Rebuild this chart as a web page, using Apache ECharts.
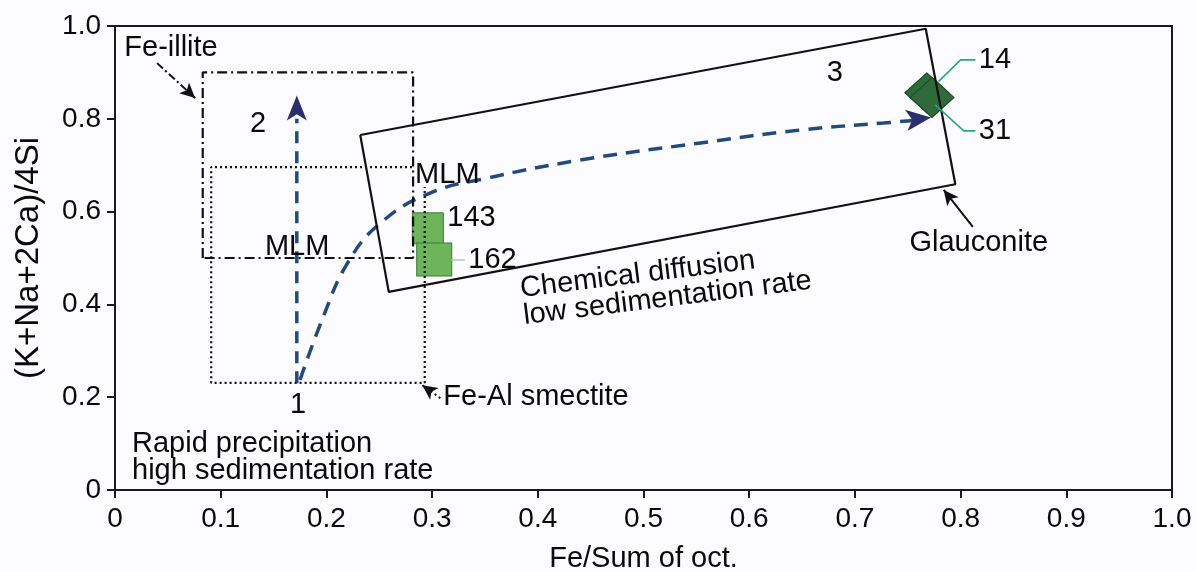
<!DOCTYPE html>
<html>
<head>
<meta charset="utf-8">
<script src="https://cdn.jsdelivr.net/npm/echarts@6/dist/echarts.min.js"></script>
<style>
html,body{margin:0;padding:0;background:#fcfcfe;}
#chart{width:1197px;height:572px;}
</style>
</head>
<body>
<div id="chart"></div>
<script>
// ---------- data ----------
const xAxisTitle = 'Fe/Sum of oct.';
const yAxisTitle = '(K+Na+2Ca)/4Si';

// mineral fields (Fe/Sum of oct., (K+Na+2Ca)/4Si)
const feIlliteField = [[0.083,0.5],[0.083,0.9],[0.282,0.9],[0.282,0.5],[0.083,0.5]];
const feAlSmectiteField = [[0.281,0.696],[0.091,0.696],[0.091,0.231],[0.293,0.231],[0.293,0.653]];
const glauconiteField = [[0.232,0.765],[0.767,0.994],[0.795,0.659],[0.259,0.427],[0.232,0.765]];

// evolution paths
const diffusionPath = [[0.175,0.237],[0.197,0.373],[0.220,0.489],[0.251,0.575],[0.298,0.640],
  [0.352,0.672],[0.440,0.711],[0.554,0.748],[0.649,0.776],[0.727,0.791],[0.758,0.797]];
const diffusionHead = [[0.772,0.803]];
const precipitationPath = [[0.172,0.23],[0.172,0.80]];
const precipitationHead = [[0.172,0.850]];

// samples
const mlmSampleNames = ['143','162'];
const mlmSampleValues = [[0.296,0.564],[0.302,0.497]];
const glauconiteSampleNames = ['14','31'];
const glauconiteSampleValues = [[0.768,0.856],[0.773,0.846]];

// ---------- layout / annotations ----------
const TXT = '#0a0a0a';
const FONT = 'Liberation Sans, Arial, sans-serif';
const FS = 29;

function lbl(x, y, text, opts) {
  opts = opts || {};
  return {
    value: [x, y],
    label: Object.assign({
      show: true, formatter: text, position: opts.left ? 'right' : 'inside',
      distance: 0, color: TXT, opacity: 1, fontSize: FS, fontFamily: FONT, lineHeight: 27
    }, opts.extra || {})
  };
}

const annotations = [
  lbl(0.053, 0.9526, 'Fe-illite'),
  lbl(0.1354, 0.789, '2'),
  lbl(0.1723, 0.5237, 'MLM'),
  lbl(0.3144, 0.679, 'MLM'),
  lbl(0.3144, 0.586, mlmSampleNames[0], {left: true}),
  lbl(0.3343, 0.4957, mlmSampleNames[1], {left: true}),
  lbl(0.681, 0.899, '3'),
  lbl(0.8172, 0.9267, glauconiteSampleNames[0], {left: true}),
  lbl(0.8172, 0.7737, glauconiteSampleNames[1], {left: true}),
  lbl(0.8172, 0.5330, 'Glauconite'),
  lbl(0.1733, 0.1832, '1'),
  lbl(0.3106, 0.2004, 'Fe-Al smectite', {left: true}),
  lbl(0.0161, 0.0700, 'Rapid precipitation\nhigh sedimentation rate', {left: true}),
  lbl(0.3835, 0.4330, 'Chemical diffusion', {left: true, extra: {rotate: 7}}),
  lbl(0.3864, 0.3750, 'low sedimentation rate', {left: true, extra: {rotate: 7}})
];

const leaderColor = '#2aa584';

const chart = echarts.init(document.getElementById('chart'), null, {renderer: 'canvas'});
chart.setOption({
  animation: false,
  backgroundColor: '#fcfcfe',
  textStyle: {fontFamily: FONT},
  grid: {left: 115, right: 25, top: 26, bottom: 82, outerBoundsMode: 'none', containLabel: false,
    show: true, borderColor: '#1a1a1a', borderWidth: 2, backgroundColor: 'transparent'},
  xAxis: {
    type: 'value', min: 0, max: 1, interval: 0.1,
    name: xAxisTitle, nameLocation: 'middle', nameGap: 54,
    nameTextStyle: {fontSize: 29, color: TXT, fontFamily: FONT},
    axisLine: {show: true, onZero: false, lineStyle: {color: '#1a1a1a', width: 2}},
    axisTick: {show: true, inside: false, length: 8, lineStyle: {color: '#1a1a1a', width: 2}},
    axisLabel: {fontSize: 28, color: TXT, margin: 15, fontFamily: FONT,
      formatter: v => v === 0 ? '0' : v.toFixed(1)},
    splitLine: {show: false}
  },
  yAxis: {
    type: 'value', min: 0, max: 1, interval: 0.2,
    name: yAxisTitle, nameLocation: 'middle', nameGap: 70,
    nameTextStyle: {fontSize: 33, color: TXT, fontFamily: FONT},
    axisLine: {show: true, onZero: false, lineStyle: {color: '#1a1a1a', width: 2}},
    axisTick: {show: true, inside: false, length: 8, lineStyle: {color: '#1a1a1a', width: 2}},
    axisLabel: {fontSize: 28, color: TXT, margin: 14, fontFamily: FONT,
      formatter: v => v === 0 ? '0' : v.toFixed(1)},
    splitLine: {show: false}
  },
  series: [
    {
      type: 'scatter', z: 2, symbol: 'rect',
      data: mlmSampleValues.map((v, i) => ({name: mlmSampleNames[i], value: v, symbolSize: i === 0 ? [31, 31] : [35, 33]})),
      itemStyle: {color: '#6db45b', borderColor: '#3d7b37', borderWidth: 1, opacity: 1}
    },
    {
      type: 'scatter', z: 2, symbol: 'diamond', symbolSize: [44, 40],
      data: glauconiteSampleValues.map((v, i) => ({name: glauconiteSampleNames[i], value: v})),
      itemStyle: {color: '#2e6a3a', borderColor: '#1d4726', borderWidth: 1, opacity: 1}
    },
    {
      type: 'line', z: 4, symbol: 'none', data: feIlliteField,
      lineStyle: {color: '#111', width: 2.2, type: [10, 4, 2, 4]}
    },
    {
      type: 'line', z: 4, symbol: 'none', data: feAlSmectiteField,
      lineStyle: {color: '#111', width: 2.2, type: [2, 3]}
    },
    {
      type: 'line', z: 4, symbol: 'none', data: glauconiteField,
      lineStyle: {color: '#111', width: 2.2, type: 'solid'}
    },
    {
      type: 'line', z: 3, symbol: 'none', smooth: 0.45, data: diffusionPath,
      lineStyle: {color: '#234a7d', width: 3.5, type: [14, 9]}
    },
    {
      type: 'line', z: 3, symbol: 'none', data: precipitationPath,
      lineStyle: {color: '#234a7d', width: 3.5, type: [12, 8]}
    },
    {
      type: 'scatter', z: 3, symbol: 'arrow', symbolSize: [16, 25], symbolRotate: -83,
      data: diffusionHead, itemStyle: {color: '#2a2e6c', opacity: 1}
    },
    {
      type: 'scatter', z: 3, symbol: 'arrow', symbolSize: [15, 25], symbolRotate: 0,
      data: precipitationHead, itemStyle: {color: '#2a2e6c', opacity: 1}
    },
    {
      type: 'line', z: 4, data: [],
      markLine: {
        silent: true, animation: false, symbol: ['none', 'arrow'], symbolSize: [11, 15],
        label: {show: false},
        data: [
          [{coord: [0.0398, 0.920], lineStyle: {color: '#111', width: 2, type: [8, 3, 2, 3]}}, {coord: [0.0758, 0.845]}],
          [{coord: [0.3078, 0.198], lineStyle: {color: '#111', width: 2, type: [2, 3]}}, {coord: [0.2907, 0.226]}],
          [{coord: [0.8116, 0.567], lineStyle: {color: '#111', width: 2, type: 'solid'}}, {coord: [0.784, 0.6466]}]
        ]
      }
    },
    {
      type: 'line', z: 5, symbol: 'none', data: [[0.779, 0.880], [0.800, 0.927], [0.814, 0.927]],
      lineStyle: {color: leaderColor, width: 1.6}
    },
    {
      type: 'line', z: 5, symbol: 'none', data: [[0.776, 0.830], [0.803, 0.774], [0.814, 0.774]],
      lineStyle: {color: leaderColor, width: 1.6}
    },
    {
      type: 'line', z: 5, symbol: 'none', data: [[0.318, 0.4957], [0.331, 0.4957]],
      lineStyle: {color: '#9fcfc8', width: 1.5}
    },
    {
      type: 'scatter', z: 6, symbolSize: 0, data: annotations, silent: true,
      itemStyle: {opacity: 1}
    }
  ]
});
</script>
</body>
</html>
